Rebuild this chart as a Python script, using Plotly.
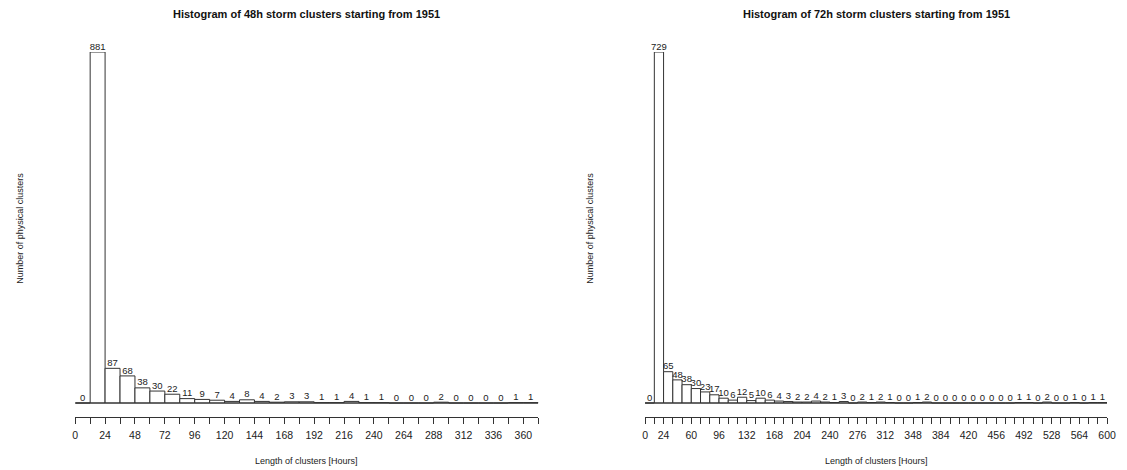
import numpy as np
import plotly.graph_objects as go

W, H = 1127, 470
bin_width = 12

counts_48h = [0, 881, 87, 68, 38, 30, 22, 11, 9, 7, 4, 8, 4, 2, 3, 3, 1, 1, 4, 1,
              1, 0, 0, 0, 2, 0, 0, 0, 0, 1, 1]
counts_72h = [0, 729, 65, 48, 38, 30, 23, 17, 10, 6, 12, 5, 10, 6, 4, 3,
              2, 2, 4, 2, 1, 3, 0, 2, 1, 2, 1, 0, 0, 1, 2,
              0, 0, 0, 0, 0, 0, 0, 0, 0,
              1, 1, 0, 2, 0, 0, 1, 0, 1, 1]

labels_48h = [0, 24, 48, 72, 96, 120, 144, 168, 192, 216, 240, 264, 288, 312, 336, 360]
labels_72h = [0, 24, 60, 96, 132, 168, 204, 240, 276, 312, 348, 384, 420, 456, 492, 528, 564, 600]

titles = ["Histogram of 48h storm clusters starting from 1951",
          "Histogram of 72h storm clusters starting from 1951"]
xlabel = "Length of clusters [Hours]"
ylabel = "Number of physical clusters"

FONT = "Liberation Sans, Arial, sans-serif"
INK = "#222222"
LINE = "#333333"

# pixel layout
panels = [
    dict(counts=counts_48h, labels=labels_48h, x0=73, x1=541, xmax=372),
    dict(counts=counts_72h, labels=labels_72h, x0=649, x1=1116, xmax=600),
]
y_base_px = 403
y_axis_px = 417
y_top_px = 52

fig = go.Figure()
layout = dict(
    width=W, height=H, margin=dict(l=0, r=0, t=0, b=0),
    paper_bgcolor="white", plot_bgcolor="white", showlegend=False,
    font=dict(family=FONT, color=INK, size=10),
    annotations=[], shapes=[],
)

for i, p in enumerate(panels):
    n = i + 1
    xa = "x" if n == 1 else f"x{n}"
    ya = "y" if n == 1 else f"y{n}"
    counts = p["counts"]
    nb = len(counts)
    edges = np.arange(nb + 1) * bin_width
    centers = edges[:-1] + bin_width / 2
    ymax = max(counts)
    units_per_px = ymax / (y_base_px - y_top_px)
    ylow = -(y_axis_px - y_base_px) * units_per_px

    fig.add_trace(go.Bar(
        x=centers, y=counts, width=bin_width, xaxis=xa, yaxis=ya,
        marker=dict(color="white", line=dict(color=LINE, width=1)),
        hoverinfo="skip",
    ))
    fig.add_trace(go.Scatter(
        x=centers, y=counts, mode="text", text=[str(c) for c in counts],
        textposition="top center", xaxis=xa, yaxis=ya, cliponaxis=False,
        textfont=dict(family=FONT, size=9.5, color=INK), hoverinfo="skip",
    ))
    # baseline along bin bottoms
    fig.add_trace(go.Scatter(
        x=[edges[0], edges[-1]], y=[0, 0], mode="lines", xaxis=xa, yaxis=ya,
        line=dict(color=LINE, width=1), hoverinfo="skip", cliponaxis=False,
    ))

    tickvals = list(edges[edges <= p["xmax"]])
    ticktext = [str(int(t)) if int(t) in p["labels"] else "" for t in tickvals]

    layout[f"xaxis{'' if n == 1 else n}"] = dict(
        domain=[p["x0"] / W, p["x1"] / W], range=[0, p["xmax"]],
        anchor=ya, showgrid=False, zeroline=False,
        showline=True, linecolor=LINE, linewidth=1,
        ticks="outside", ticklen=6, tickcolor=LINE, tickwidth=1,
        tickmode="array", tickvals=tickvals, ticktext=ticktext,
        tickfont=dict(family=FONT, size=10.5, color=INK), tickangle=0,
        ticklabelstandoff=2,
    )
    layout[f"yaxis{'' if n == 1 else n}"] = dict(
        domain=[1 - y_axis_px / H, 1 - y_top_px / H], range=[ylow, ymax],
        anchor=xa, visible=False, showgrid=False, zeroline=False,
    )
    cx = (p["x0"] + p["x1"]) / 2 / W
    layout["annotations"].append(dict(
        text=f"<b>{titles[i]}</b>", x=cx, y=1 - 14 / H, xref="paper", yref="paper",
        showarrow=False, xanchor="center", yanchor="middle",
        font=dict(family=FONT, size=11, color="#111"),
    ))
    layout["annotations"].append(dict(
        text=xlabel, x=cx, y=1 - 461 / H, xref="paper", yref="paper",
        showarrow=False, xanchor="center", yanchor="middle",
        font=dict(family=FONT, size=9, color=INK),
    ))
    layout["annotations"].append(dict(
        text=ylabel, x=(p["x0"] - 56) / W, y=1 - 228 / H, xref="paper", yref="paper",
        showarrow=False, xanchor="center", yanchor="middle", textangle=-90,
        font=dict(family=FONT, size=9, color=INK),
    ))

fig.update_layout(**layout)
fig.write_html("out.html")
